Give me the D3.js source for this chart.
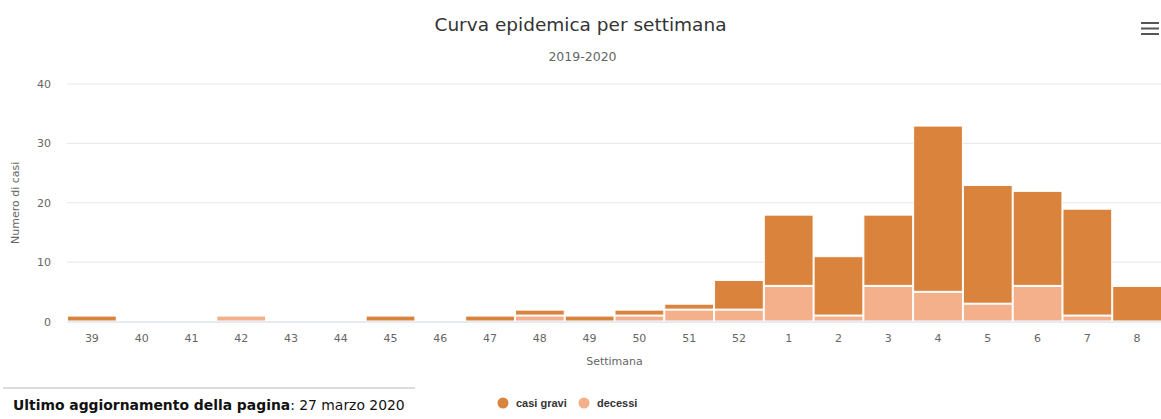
<!DOCTYPE html>
<html>
<head>
<meta charset="utf-8">
<script src="https://cdn.jsdelivr.net/npm/d3@7"></script>
<style>
  html, body { margin: 0; padding: 0; background: #fff; }
  svg { display: block; font-family: "DejaVu Sans", Verdana, sans-serif; }
</style>
</head>
<body>
<svg id="chart" width="1161" height="419"></svg>
<script>
// weeks of the 2019-2020 season
const weeks = ["39","40","41","42","43","44","45","46","47","48","49","50","51","52","1","2","3","4","5","6","7","8"];
const casiGravi = [1,0,0,0,0,0,1,0,1,1,1,1,1,5,12,10,12,28,20,16,18,6];
const decessi   = [0,0,0,1,0,0,0,0,0,1,0,1,2,2,6,1,6,5,3,6,1,0];
const yTicks = [0, 10, 20, 30, 40];

const W = 1161, H = 419;
const plotLeft = 67, plotRight = 1162, plotTop = 84, plotBottom = 321.5;
const colGravi = "#d9833c", colDecessi = "#f4b08b";

const svg = d3.select("#chart");

const x = d3.scaleBand().domain(weeks).range([plotLeft, plotRight]).padding(0);
const y = d3.scaleLinear().domain([0, 40]).range([plotBottom, plotTop]);

// gridlines
svg.append("g")
  .selectAll("line")
  .data(yTicks.filter(d => d > 0))
  .join("line")
  .attr("x1", plotLeft).attr("x2", W)
  .attr("y1", d => y(d)).attr("y2", d => y(d))
  .attr("stroke", "#e6e6e6").attr("stroke-width", 1);

// y tick labels
svg.append("g")
  .attr("font-size", 11).attr("fill", "#666").attr("text-anchor", "end")
  .selectAll("text")
  .data(yTicks)
  .join("text")
  .attr("x", 51)
  .attr("y", d => y(d) + 4)
  .text(d => d);

// y axis title
svg.append("text")
  .attr("transform", `translate(19,${(plotTop + plotBottom) / 2}) rotate(-90)`)
  .attr("text-anchor", "middle")
  .attr("font-size", 11).attr("fill", "#666")
  .text("Numero di casi");

// stacked bars, decessi at the bottom
const rows = weeks.map((w, i) => ({ week: w, decessi: decessi[i], gravi: casiGravi[i] }));
const stack = d3.stack().keys(["decessi", "gravi"])(rows);
const colors = { decessi: colDecessi, gravi: colGravi };

svg.append("g")
  .selectAll("g")
  .data(stack)
  .join("g")
  .attr("fill", s => colors[s.key])
  .selectAll("rect")
  .data(s => s.filter(d => d[1] > d[0]))
  .join("rect")
  .attr("x", d => x(d.data.week) + 0.5)
  .attr("width", x.bandwidth() - 1)
  .attr("y", d => y(d[1]) + 0.5)
  .attr("height", d => y(d[0]) - y(d[1]) - 1)
  .attr("stroke", "#fff").attr("stroke-width", 1);

// x axis line
svg.append("line")
  .attr("x1", plotLeft).attr("x2", W)
  .attr("y1", plotBottom + 0.5).attr("y2", plotBottom + 0.5)
  .attr("stroke", "#ccd6eb").attr("stroke-width", 1);

// x tick labels
svg.append("g")
  .attr("font-size", 11).attr("fill", "#666").attr("text-anchor", "middle")
  .selectAll("text")
  .data(weeks)
  .join("text")
  .attr("x", d => x(d) + x.bandwidth() / 2)
  .attr("y", 342)
  .text(d => d);

svg.append("text")
  .attr("x", (plotLeft + plotRight) / 2).attr("y", 365)
  .attr("text-anchor", "middle").attr("font-size", 11).attr("fill", "#666")
  .text("Settimana");

// title & subtitle
svg.append("text")
  .attr("x", W / 2).attr("y", 31)
  .attr("text-anchor", "middle").attr("font-size", 18.5).attr("fill", "#333")
  .text("Curva epidemica per settimana");

svg.append("text")
  .attr("x", W / 2 + 2).attr("y", 61)
  .attr("text-anchor", "middle").attr("font-size", 12.5).attr("fill", "#666")
  .text("2019-2020");

// menu icon
svg.append("g")
  .attr("stroke", "#555").attr("stroke-width", 2)
  .selectAll("line")
  .data([23, 28.5, 34])
  .join("line")
  .attr("x1", 1141).attr("x2", 1159)
  .attr("y1", d => d).attr("y2", d => d);

// legend
const legend = [
  { name: "casi gravi", color: colGravi, cx: 503 },
  { name: "decessi", color: colDecessi, cx: 584 }
];
const lg = svg.append("g")
  .attr("font-family", "'Liberation Sans', Arial, sans-serif")
  .attr("font-size", 11).attr("font-weight", "bold").attr("fill", "#333");
lg.selectAll("circle")
  .data(legend)
  .join("circle")
  .attr("cx", d => d.cx).attr("cy", 403).attr("r", 5.5)
  .attr("fill", d => d.color);
lg.selectAll("text")
  .data(legend)
  .join("text")
  .attr("x", d => d.cx + 13).attr("y", 407)
  .text(d => d.name);

// page footer
svg.append("line")
  .attr("x1", 3).attr("x2", 415).attr("y1", 388).attr("y2", 388)
  .attr("stroke", "#d0d0d0").attr("stroke-width", 1.5);

const foot = svg.append("text")
  .attr("x", 13).attr("y", 410)
  .attr("font-size", 13.9).attr("fill", "#111");
foot.append("tspan").attr("font-weight", "bold").text("Ultimo aggiornamento della pagina");
foot.append("tspan").text(": 27 marzo 2020");
</script>
</body>
</html>
